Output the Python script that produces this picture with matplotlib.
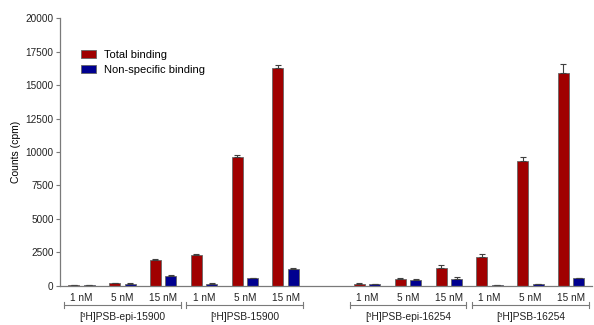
import matplotlib
matplotlib.use("Agg")
from matplotlib import pyplot as plt
import numpy as np

plt.rcParams['font.family'] = ['Liberation Sans', 'DejaVu Sans']

# valores
concentraciones = ["1 nM", "5 nM", "15 nM"]
grupos = ["[³H]PSB-epi-15900", "[³H]PSB-15900", "[³H]PSB-epi-16254", "[³H]PSB-16254"]
posiciones = [0, 1, 2, 3, 4, 5, 7, 8, 9, 10, 11, 12]

total = [60, 190, 1920, 2300, 9620, 16270, 140, 500, 1350, 2180, 9330, 15900]
total_err = [20, 40, 60, 60, 150, 200, 30, 60, 230, 180, 260, 640]
no_especifico = [40, 150, 730, 160, 550, 1270, 110, 440, 500, 30, 120, 560]
no_especifico_err = [10, 20, 90, 30, 50, 50, 20, 40, 170, 10, 20, 50]

ROJO = "#a00000"
AZUL = "#000090"
GRIS = "#7a7a7a"

fig = plt.figure(figsize=(5.94, 3.25), dpi=100)
ax = fig.add_axes([0.101, 0.121, 0.895, 0.823])

x = np.array(posiciones, dtype=float)
ancho = 0.27
desp = 0.19
err_kw = dict(ecolor="#404040", elinewidth=0.8, capsize=2.5, capthick=0.8)

ax.bar(x - desp, total, ancho, color=ROJO, edgecolor="#666666", linewidth=0.6,
       yerr=[np.zeros(len(total)), total_err], error_kw=err_kw, label="Total binding")
ax.bar(x + desp, no_especifico, ancho, color=AZUL, edgecolor="#666666", linewidth=0.6,
       yerr=[np.zeros(len(no_especifico)), no_especifico_err], error_kw=err_kw,
       label="Non-specific binding")

ax.set_xlim(-0.53, 12.5)
ax.set_ylim(0, 20000)
ax.set_yticks(np.arange(0, 20001, 2500))
ax.set_xticks(x)
ax.set_xticklabels(concentraciones * 4)
ax.tick_params(axis="x", length=0, pad=5.5, labelsize=7.2, colors="#222222")
ax.tick_params(axis="y", length=3, width=0.8, color=GRIS, labelsize=7.2,
               labelcolor="#222222", pad=1.5)
ax.set_ylabel("Counts (cpm)", fontsize=7.5, labelpad=3.5)

for lado in ["top", "right"]:
    ax.spines[lado].set_visible(False)
for lado in ["left", "bottom"]:
    ax.spines[lado].set_color(GRIS)
    ax.spines[lado].set_linewidth(0.9)

# corchetes con nombres de grupos
trans = ax.get_xaxis_transform()
inicios = [0, 3, 7, 10]
for nombre, ini in zip(grupos, inicios):
    x0 = ini - 0.43
    x1 = ini + 2.43
    yb = -0.072
    ax.plot([x0, x1], [yb, yb], color=GRIS, lw=0.8, transform=trans, clip_on=False)
    for xe in (x0, x1):
        ax.plot([xe, xe], [yb - 0.012, yb + 0.012], color=GRIS, lw=0.8,
                transform=trans, clip_on=False)
    ax.text(ini + 1, -0.118, nombre, transform=trans, ha="center", va="center",
            fontsize=7.4, color="#222222")

leg = ax.legend(loc="upper left", bbox_to_anchor=(0.031, 0.898), frameon=False,
                fontsize=8, handlelength=1.35, handleheight=0.63, handletextpad=0.75,
                labelspacing=0.45, borderaxespad=0)

fig.savefig("out.png", dpi=100)
